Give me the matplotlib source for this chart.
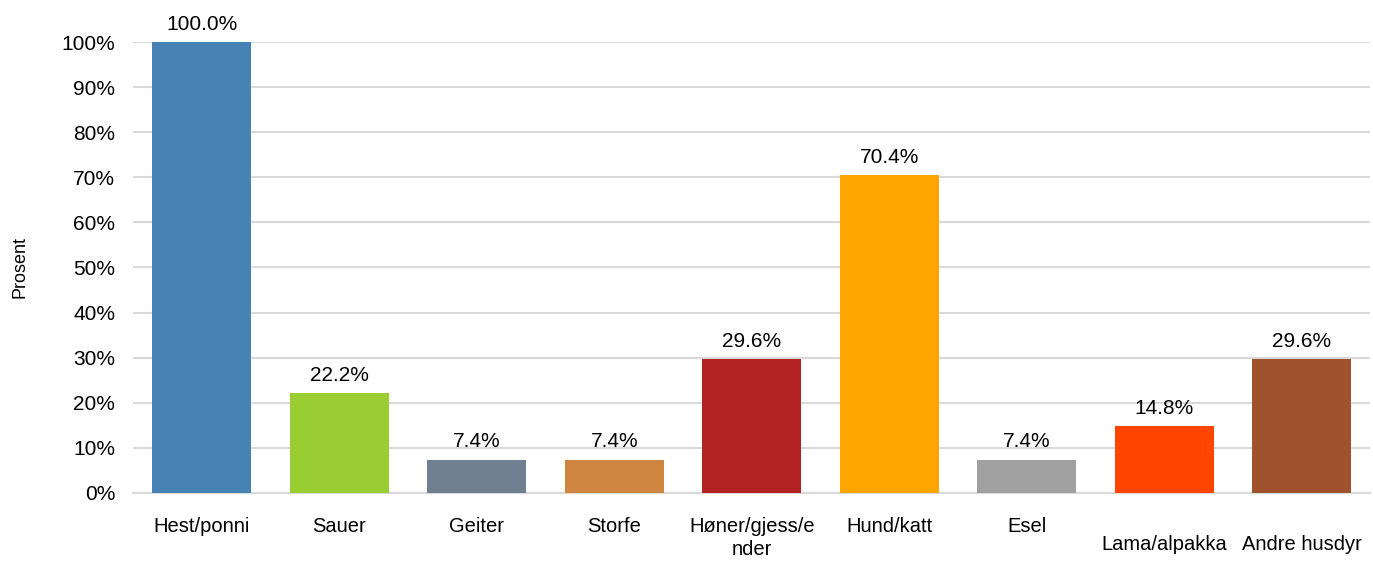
import matplotlib
matplotlib.use('Agg')
import matplotlib.pyplot as plt
from matplotlib.ticker import PercentFormatter

plt.rcParams['font.family'] = ['Liberation Sans', 'DejaVu Sans']

# data
categories = ['Hest/ponni', 'Sauer', 'Geiter', 'Storfe', 'Høner/gjess/e\nnder',
              'Hund/katt', 'Esel', 'Lama/alpakka', 'Andre husdyr']
values = [100.0, 22.2, 7.4, 7.4, 29.6, 70.4, 7.4, 14.8, 29.6]
colors = ['#4682B4', '#9ACD32', '#708090', '#CD853F', '#B22222',
          '#FFA500', '#A0A0A0', '#FF4500', '#A0522D']

fig = plt.figure(figsize=(13.73, 5.64), dpi=100)
ax = fig.add_axes([0.097, 0.126, 0.901, 0.7995])

x = range(len(categories))
bars = ax.bar(x, values, width=0.72, color=colors, zorder=3)

for bar, v in zip(bars, values):
    ax.text(bar.get_x() + bar.get_width() / 2, v + 1.8, f"{v:.1f}%",
            ha='center', va='bottom', fontsize=15, color='#000000')

ax.set_xlim(-0.5, len(categories) - 0.5)
ax.set_ylim(0, 100)
ax.set_yticks(range(0, 101, 10))
ax.yaxis.set_major_formatter(PercentFormatter(decimals=0))
ax.set_xticks(list(x))
ax.set_xticklabels(categories, fontsize=14.5, linespacing=1.3)
ax.tick_params(axis='y', labelsize=15, length=0, pad=13)
ax.tick_params(axis='x', length=0, pad=17)

# last two labels sit a bit lower in the original
for i in (7, 8):
    ax.xaxis.get_major_ticks()[i].set_pad(30)

ax.grid(axis='y', color='#D9D9D9', linewidth=1.5, zorder=0)
for s in ['top', 'right', 'left']:
    ax.spines[s].set_visible(False)
ax.spines['bottom'].set_color('#D9D9D9')
ax.spines['bottom'].set_linewidth(1.5)

ax.set_ylabel('Prosent', fontsize=13)
ax.yaxis.set_label_coords(-0.085, 0.5)

plt.savefig('out.png', dpi=100)
